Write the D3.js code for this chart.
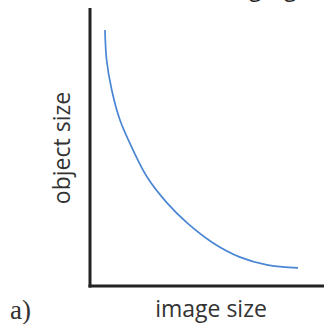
<!DOCTYPE html>
<html><head><meta charset="utf-8">
<script src="https://cdn.jsdelivr.net/npm/d3@7"></script>
<style>html,body{margin:0;padding:0;background:#fff;overflow:hidden}</style>
</head><body>
<script>
const imageSize = [6.4, 7.1, 9.3, 12.8, 18.4, 24.4, 32.9, 41.5, 52.6, 64.1, 75.6, 88.9];
const objectSize = [92.1, 81.3, 70.5, 59.7, 48.9, 39.2, 29.9, 22.7, 15.5, 10.4, 7.6, 6.5];
const xLabel = "image size";
const yLabel = "object size";
const panelLabel = "a)";

const W = 324, H = 324;
const svg = d3.select("body").append("svg").attr("width", W).attr("height", H);
const x = d3.scaleLinear().domain([0, 100]).range([90, 324]);
const y = d3.scaleLinear().domain([0, 100]).range([286, 8]);

// clipped title fragments from neighbouring panel
svg.append("text").attr("x", 249).attr("y", -4).attr("font-family", "Open Sans").attr("font-size", 23).attr("fill", "#222").text("g");
svg.append("text").attr("x", 284).attr("y", -4).attr("font-family", "Open Sans").attr("font-size", 23).attr("fill", "#222").text("g");

const line = d3.line().x((d, i) => x(imageSize[i])).y(d => y(d)).curve(d3.curveCatmullRom.alpha(0.5));
svg.append("path").datum(objectSize).attr("d", line)
  .attr("fill", "none").attr("stroke", "#4a86d3").attr("stroke-width", 1.7);

// axes
svg.append("line").attr("x1", x(0)).attr("x2", x(0)).attr("y1", y(100)).attr("y2", y(0) + 1.5)
  .attr("stroke", "#222").attr("stroke-width", 3);
svg.append("line").attr("x1", x(0) - 1.5).attr("x2", x(100)).attr("y1", y(0)).attr("y2", y(0))
  .attr("stroke", "#222").attr("stroke-width", 3);

svg.append("text").attr("x", 211).attr("y", 317).attr("text-anchor", "middle")
  .attr("font-family", "Open Sans").attr("font-size", 23).attr("fill", "#333").text(xLabel);
svg.append("text").attr("transform", "translate(70,148) rotate(-90)").attr("text-anchor", "middle")
  .attr("font-family", "Open Sans").attr("font-size", 23).attr("fill", "#333").text(yLabel);
svg.append("text").attr("x", 10).attr("y", 319)
  .attr("font-family", "Liberation Serif").attr("font-size", 27).attr("fill", "#333").text(panelLabel);
</script>
</body></html>
